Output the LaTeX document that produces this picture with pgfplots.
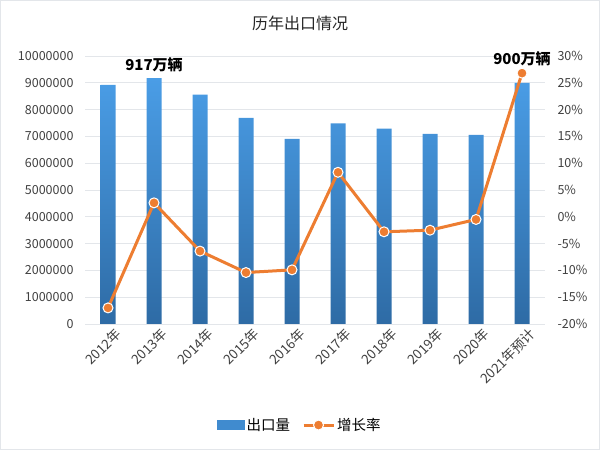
\documentclass[border=0pt]{standalone}
\usepackage{fontspec}
\setmainfont{Noto Sans CJK SC}
\usepackage{pgfplots}
\pgfplotsset{compat=1.18}
\definecolor{barTop}{HTML}{4A9DE6}
\definecolor{barBot}{HTML}{2E6BA5}
\definecolor{lineOr}{HTML}{ED7D31}
\definecolor{tickG}{HTML}{404040}
\definecolor{gridG}{HTML}{E3E6EA}
\pgfplotsset{
  mylinelegend/.style={legend image code/.code={\draw[mark repeat=2,mark phase=2,##1] plot coordinates {(0bp,0bp) (15bp,0bp) (30bp,0bp)};}},
}
\begin{document}
\begin{tikzpicture}[x=1bp,y=1bp]
\path[use as bounding box] (0,0) rectangle (600,450);
\draw[gridG] (0.5,0.5) rectangle (599.5,449.5);
\node[font=\fontsize{16bp}{19bp}\selectfont, text=black!85] at (300,427) {历年出口情况};
\begin{axis}[
  at={(85bp,126bp)}, anchor=south west,
  scale only axis, width=460bp, height=268bp,
  xmin=-0.5, xmax=9.5, ymin=0, ymax=10000000,
  xtick={0,...,9},
  xticklabels={2012年,2013年,2014年,2015年,2016年,2017年,2018年,2019年,2020年,2021年预计},
  xticklabel style={rotate=45, anchor=north east, font=\fontsize{13.5bp}{15bp}\selectfont, text=tickG, inner sep=0.5bp, xshift=3bp, yshift=-6bp},
  ytick={0,1000000,...,10000000},
  scaled y ticks=false,
  yticklabel style={/pgf/number format/fixed, /pgf/number format/1000 sep={}, /pgf/number format/assume math mode=true, font=\fontsize{12.5bp}{14bp}\selectfont, text=tickG, xshift=-8bp},
  ymajorgrids, grid style={gridG, line width=0.8bp},
  axis line style={draw=none},
  major tick length=0pt,
  clip=false,
]
\addplot[ybar, bar width=15bp, draw=none, top color=barTop, bottom color=barBot] coordinates {
(0,8920000) (1,9170000) (2,8560000) (3,7690000) (4,6910000)
(5,7490000) (6,7290000) (7,7090000) (8,7060000) (9,9000000)};
\node[font=\fontsize{15bp}{17bp}\selectfont\bfseries] at (axis cs:1,9660000) {917万辆};
\node[font=\fontsize{15bp}{17bp}\selectfont\bfseries] at (axis cs:9,9890000) {900万辆};
\end{axis}
\begin{axis}[
  at={(85bp,126bp)}, anchor=south west,
  scale only axis, width=460bp, height=268bp,
  xmin=-0.5, xmax=9.5, ymin=-20, ymax=30,
  hide x axis,
  axis y line*=right,
  axis line style={draw=none},
  major tick length=0pt,
  ytick={-20,-15,...,30},
  yticklabel={\pgfmathprintnumber{\tick}\%},
  yticklabel style={/pgf/number format/assume math mode=true, font=\fontsize{12.5bp}{14bp}\selectfont, text=tickG, xshift=9bp},
  legend columns=2,
  legend style={at={(0.467,-0.377)}, anchor=center, draw=none, fill=none,
    font=\fontsize{14.5bp}{16bp}\selectfont,
    /tikz/every even column/.append style={column sep=10bp}},
  clip=false,
]
\addlegendimage{legend image code/.code={\fill[barTop!65!barBot] (0bp,-4.5bp) rectangle (27bp,4.5bp);}}
\addlegendentry{出口量}
\addplot[lineOr, line width=3bp, mark=*, mark size=5bp,
  mark options={fill=lineOr, draw=white, line width=1bp}, mylinelegend]
 coordinates {
(0,-17.0) (1,2.6) (2,-6.4) (3,-10.4) (4,-9.9)
(5,8.3) (6,-2.8) (7,-2.5) (8,-0.5) (9,26.8)};
\addlegendentry{增长率}
\end{axis}
\end{tikzpicture}
\end{document}
